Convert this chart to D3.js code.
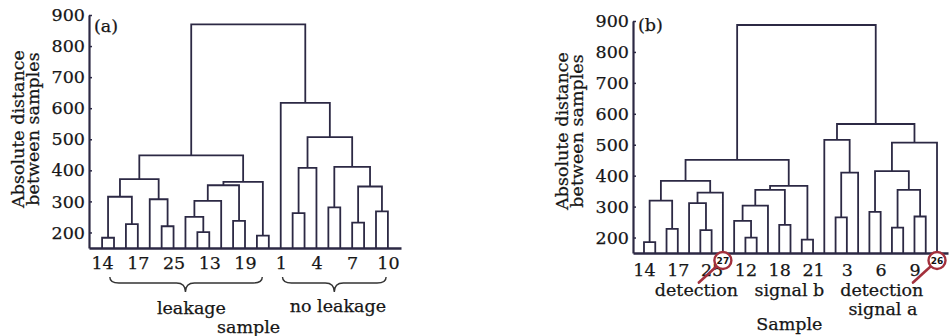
<!DOCTYPE html>
<html>
<head>
<meta charset="utf-8">
<script src="https://cdn.jsdelivr.net/npm/d3@7"></script>
<style>
  body { margin: 0; background: #fff; }
  svg text { font-family: "DejaVu Serif", serif; stroke: #161616; stroke-width: 0.25px; }
</style>
</head>
<body>
<div id="chart"></div>
<script>
// ---- data ----
const yTicks = [200, 300, 400, 500, 600, 700, 800, 900];

// panel (a): leakage / no leakage samples
const leafCountA = 25;
const tickLabelsA = ["14", "17", "25", "13", "19", "1", "4", "7", "10"];
// [left id, right id, distance]; ids >= leafCount refer to earlier merges
const mergesA = [
  [0, 1, 183], [2, 3, 227], [25, 26, 315], [5, 6, 220], [4, 28, 307],
  [27, 29, 372], [8, 9, 201], [7, 31, 250], [32, 10, 302], [11, 12, 237],
  [33, 34, 352], [13, 14, 190], [35, 36, 363], [30, 37, 448], [16, 17, 262],
  [39, 18, 408], [19, 20, 281], [21, 22, 232], [23, 24, 268], [42, 43, 348],
  [41, 44, 411], [40, 45, 507], [15, 46, 617], [38, 47, 870]
];

// panel (b): with detection signals 26 and 27
const leafCountB = 27;
const tickLabelsB = ["14", "17", "25", "12", "18", "21", "3", "6", "9"];
const mergesB = [
  [0, 1, 185], [2, 3, 228], [27, 28, 319], [5, 6, 224], [4, 30, 311],
  [31, 7, 345], [29, 32, 383], [9, 10, 200], [8, 34, 254], [35, 11, 303],
  [12, 13, 241], [36, 37, 354], [14, 15, 193], [38, 39, 367], [33, 40, 451],
  [17, 18, 265], [42, 19, 410], [16, 43, 516], [20, 21, 283], [22, 23, 232],
  [24, 25, 268], [46, 47, 354], [45, 48, 415], [49, 26, 507], [44, 50, 567],
  [41, 51, 887]
];
const markedLeavesB = [7, 26];
const markedLabelsB = ["27", "26"];

// ---- layout ----
const lineColor = "#2c2944";
const textColor = "#161616";
const fontSize = 17.5;

const svg = d3.select("#chart").append("svg")
  .attr("width", 950)
  .attr("height", 336)
  .style("display", "block");

function drawPanel(cfg, leafCount, merges, tickLabels) {
  const leaves = d3.range(leafCount);
  const x = d3.scalePoint().domain(leaves).range([cfg.left, cfg.right]).padding(cfg.pad);
  const y = d3.scaleLinear().domain([150, 900]).range([cfg.bottom, cfg.top]);
  const at = i => x(0) + i * x.step();

  // node positions, leaves first then merges
  const nodeX = leaves.map(x);
  const nodeH = leaves.map(() => 150);
  const links = merges.map(([a, b, h]) => {
    const pts = [[nodeX[a], y(nodeH[a])], [nodeX[a], y(h)], [nodeX[b], y(h)], [nodeX[b], y(nodeH[b])]];
    nodeX.push((nodeX[a] + nodeX[b]) / 2);
    nodeH.push(h);
    return pts;
  });

  const g = svg.append("g");

  g.selectAll("path.link")
    .data(links)
    .join("path")
    .attr("class", "link")
    .attr("d", d3.line())
    .attr("fill", "none")
    .attr("stroke", lineColor)
    .attr("stroke-width", 1.8);

  const xAxis = d3.axisBottom(x)
    .tickValues(tickLabels.map((_, i) => i * 3))
    .tickFormat(i => tickLabels[i / 3])
    .tickSize(0)
    .tickPadding(cfg.xPad);

  g.append("g")
    .attr("transform", `translate(0,${cfg.bottom})`)
    .call(xAxis)
    .attr("font-size", fontSize)
    .attr("font-family", "DejaVu Serif")
    .style("color", textColor)
    .call(s => s.select(".domain").attr("stroke", lineColor).attr("stroke-width", 2.6));

  const yAxis = d3.axisLeft(y)
    .tickValues(yTicks)
    .tickSizeInner(-3)
    .tickSizeOuter(0)
    .tickPadding(4);

  g.append("g")
    .attr("transform", `translate(${cfg.left},0)`)
    .call(yAxis)
    .attr("font-size", fontSize)
    .attr("font-family", "DejaVu Serif")
    .style("color", textColor)
    .call(s => s.select(".domain").attr("stroke", lineColor).attr("stroke-width", 2.2))
    .call(s => s.selectAll(".tick line").attr("stroke", lineColor).attr("stroke-width", 1.5));

  // y title
  const title = g.append("g")
    .attr("transform", `translate(${cfg.left - 65},${cfg.titleY}) rotate(-90)`)
    .attr("font-size", fontSize)
    .attr("text-anchor", "middle")
    .attr("fill", textColor);
  title.append("text").text("Absolute distance");
  title.append("text").attr("y", 15).text("between samples");

  g.append("text")
    .attr("x", cfg.left + 5)
    .attr("y", cfg.tagY)
    .attr("font-size", fontSize)
    .attr("fill", textColor)
    .text(cfg.tag);

  return { g, at, y };
}

function brace(g, x1, x2, xm, y0) {
  const ym = y0 + 6, yt = y0 + 15, q = 9;
  const p = d3.path();
  p.moveTo(x1, y0);
  p.quadraticCurveTo(x1, ym, x1 + q, ym);
  p.lineTo(xm - q, ym);
  p.quadraticCurveTo(xm, ym, xm, yt);
  p.quadraticCurveTo(xm, ym, xm + q, ym);
  p.lineTo(x2 - q, ym);
  p.quadraticCurveTo(x2, ym, x2, y0);
  g.append("path")
    .attr("d", p.toString())
    .attr("fill", "none")
    .attr("stroke", "#333")
    .attr("stroke-width", 1.4);
}

function label(g, xPos, yPos, txt) {
  g.append("text")
    .attr("x", xPos)
    .attr("y", yPos)
    .attr("text-anchor", "middle")
    .attr("font-size", fontSize)
    .attr("fill", textColor)
    .text(txt);
}

// ---- panel (a) ----
const pa = drawPanel(
  { left: 89, right: 401, pad: 1.1, top: 15, bottom: 248, xPad: 9, titleY: 129, tag: "(a)", tagY: 32 },
  leafCountA, mergesA, tickLabelsA);
brace(pa.g, pa.at(0.65), pa.at(13.45), pa.at(7.0), 277);
brace(pa.g, pa.at(15.15), pa.at(23.85), pa.at(19.5), 277);
label(pa.g, pa.at(7.5), 314, "leakage");
label(pa.g, pa.at(19.8), 312, "no leakage");
label(pa.g, pa.at(12.3), 333, "sample");

// ---- panel (b) ----
const pb = drawPanel(
  { left: 633, right: 948, pad: 0.975, top: 21, bottom: 253, xPad: 11, titleY: 131, tag: "(b)", tagY: 31 },
  leafCountB, mergesB, tickLabelsB);
label(pb.g, pb.at(4.65), 296, "detection");
label(pb.g, pb.at(12.9), 296, "signal b");
label(pb.g, pb.at(21.1), 296, "detection");
label(pb.g, pb.at(21.2), 315, "signal a");
label(pb.g, pb.at(12.9), 330, "Sample");

// circled detection samples
const markColor = "#a3303c";
const marks = pb.g.selectAll("g.mark")
  .data(markedLeavesB.map((leaf, i) => ({ leaf, txt: markedLabelsB[i] })))
  .join("g")
  .attr("class", "mark")
  .attr("transform", d => `translate(${pb.at(d.leaf)},${260.5})`);
marks.append("line")
  .attr("x1", -7).attr("y1", 6.5)
  .attr("x2", -24).attr("y2", 22)
  .attr("stroke", markColor)
  .attr("stroke-width", 2.6)
  .attr("stroke-linecap", "round");
marks.append("circle")
  .attr("r", 8.5)
  .attr("fill", "#fff")
  .attr("stroke", markColor)
  .attr("stroke-width", 2.4);
marks.append("text")
  .attr("y", 3.5)
  .attr("text-anchor", "middle")
  .attr("font-size", 9)
  .attr("font-weight", "bold")
  .style("font-family", "DejaVu Sans, sans-serif")
  .style("stroke-width", 0)
  .attr("fill", "#111")
  .text(d => d.txt);
</script>
</body>
</html>
